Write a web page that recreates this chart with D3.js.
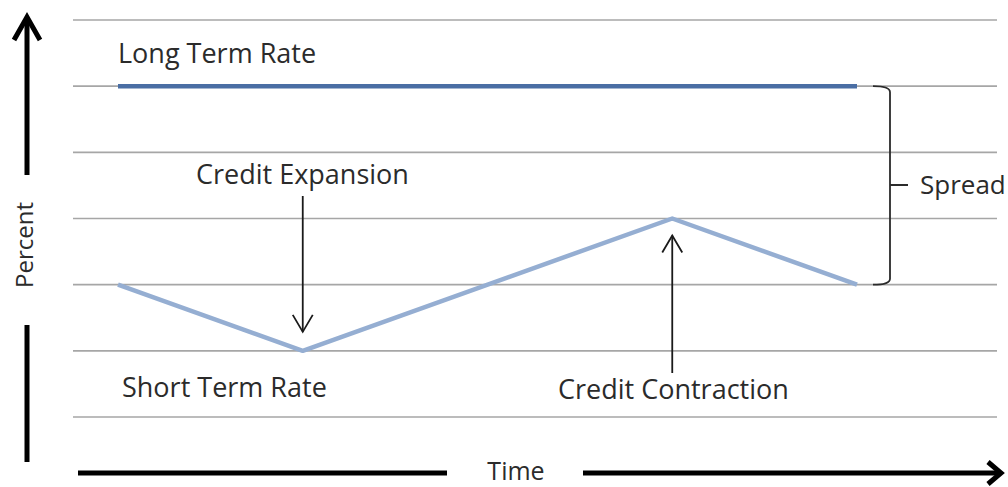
<!DOCTYPE html>
<html>
<head>
<meta charset="utf-8">
<script src="https://cdn.jsdelivr.net/npm/d3@7"></script>
<style>
  body { margin: 0; background: #fff; }
  text { font-family: "Open Sans", sans-serif; fill: #2b2b2b; }
</style>
</head>
<body>
<div id="chart"></div>
<script>
// data
var gridLevels = [0, 1, 2, 3, 4, 5, 6];
var timePoints = [0, 2.5, 7.5, 10];
var shortRate = [2, 1, 3, 2];
var longRate = [5, 5, 5, 5];
var seriesLabels = ["Long Term Rate", "Short Term Rate"];
var annotations = ["Credit Expansion", "Credit Contraction", "Spread"];
var axisTitles = ["Percent", "Time"];

var width = 1008,
    height = 487;

var svg = d3.select("#chart").append("svg")
    .attr("width", width)
    .attr("height", height);

var x = d3.scaleLinear().domain([0, 10]).range([118, 857]);
var y = d3.scaleLinear().domain([0, 6]).range([417, 20]);

// gridlines
svg.append("g")
    .selectAll("line")
    .data(gridLevels)
    .enter().append("line")
    .attr("x1", 73)
    .attr("x2", 997)
    .attr("y1", function(d) { return y(d); })
    .attr("y2", function(d) { return y(d); })
    .style("stroke", "#a6a6a6")
    .style("stroke-width", 1.6);

var line = d3.line()
    .x(function(d, i) { return x(timePoints[i]); })
    .y(function(d) { return y(d); });

svg.append("path")
    .datum(longRate)
    .attr("d", line)
    .style("fill", "none")
    .style("stroke", "#4a6ea4")
    .style("stroke-width", 4.5);

svg.append("path")
    .datum(shortRate)
    .attr("d", line)
    .style("fill", "none")
    .style("stroke", "#95aed2")
    .style("stroke-width", 4.5)
    .style("stroke-linejoin", "round");

// series labels
svg.append("text")
    .attr("x", 118).attr("y", 63)
    .style("font-size", "27px")
    .text(seriesLabels[0]);

svg.append("text")
    .attr("x", 122).attr("y", 397)
    .style("font-size", "27px")
    .text(seriesLabels[1]);

// annotation arrows (thin, open head)
function thinArrow(x0, yFrom, yTo) {
    var dir = yTo > yFrom ? -1 : 1;
    svg.append("line")
        .attr("x1", x0).attr("x2", x0)
        .attr("y1", yFrom).attr("y2", yTo)
        .style("stroke", "#1a1a1a")
        .style("stroke-width", 1.8);
    svg.append("path")
        .attr("d", "M" + (x0 - 10) + "," + (yTo + dir * 17) + "L" + x0 + "," + yTo + "L" + (x0 + 10) + "," + (yTo + dir * 17))
        .style("fill", "none")
        .style("stroke", "#1a1a1a")
        .style("stroke-width", 1.8);
}

var xTrough = x(timePoints[1]),
    xPeak = x(timePoints[2]);

thinArrow(xTrough, 196, y(shortRate[1]) - 19);
thinArrow(xPeak, 373, y(shortRate[2]) + 17);

svg.append("text")
    .attr("x", 196).attr("y", 184)
    .style("font-size", "27px")
    .text(annotations[0]);

svg.append("text")
    .attr("x", 558).attr("y", 399)
    .style("font-size", "27px")
    .text(annotations[1]);

// spread bracket
var bx = 890,
    bTop = y(longRate[3]),
    bBot = y(shortRate[3]),
    bMid = 185;
svg.append("path")
    .attr("d", "M873," + bTop + "Q890," + bTop + " " + bx + "," + (bTop + 6) +
        "L" + bx + "," + (bBot - 6) + "Q890," + bBot + " 873," + bBot +
        "M" + bx + "," + bMid + "L908," + bMid)
    .style("fill", "none")
    .style("stroke", "#2b2b2b")
    .style("stroke-width", 1.8);

svg.append("text")
    .attr("x", 920).attr("y", 194)
    .style("font-size", "26px")
    .text(annotations[2]);

// axis arrows
var heavy = { stroke: "#000", w: 5 };

svg.append("line")
    .attr("x1", 27).attr("x2", 27).attr("y1", 20).attr("y2", 175)
    .style("stroke", heavy.stroke).style("stroke-width", heavy.w);
svg.append("path")
    .attr("d", "M14,40L27,17L40,40")
    .style("fill", "none").style("stroke", heavy.stroke)
    .style("stroke-width", heavy.w).style("stroke-linejoin", "miter");
svg.append("line")
    .attr("x1", 27).attr("x2", 27).attr("y1", 325).attr("y2", 462)
    .style("stroke", heavy.stroke).style("stroke-width", heavy.w);

svg.append("text")
    .attr("transform", "translate(33,245) rotate(-90)")
    .attr("text-anchor", "middle")
    .style("font-size", "24px")
    .text(axisTitles[0]);

svg.append("line")
    .attr("x1", 78).attr("x2", 447).attr("y1", 473).attr("y2", 473)
    .style("stroke", heavy.stroke).style("stroke-width", heavy.w);
svg.append("line")
    .attr("x1", 583).attr("x2", 998).attr("y1", 473).attr("y2", 473)
    .style("stroke", heavy.stroke).style("stroke-width", heavy.w);
svg.append("path")
    .attr("d", "M988,462L1001,473L988,484")
    .style("fill", "none").style("stroke", heavy.stroke)
    .style("stroke-width", heavy.w);

svg.append("text")
    .attr("x", 516).attr("y", 480)
    .attr("text-anchor", "middle")
    .style("font-size", "25px")
    .text(axisTitles[1]);
</script>
</body>
</html>
